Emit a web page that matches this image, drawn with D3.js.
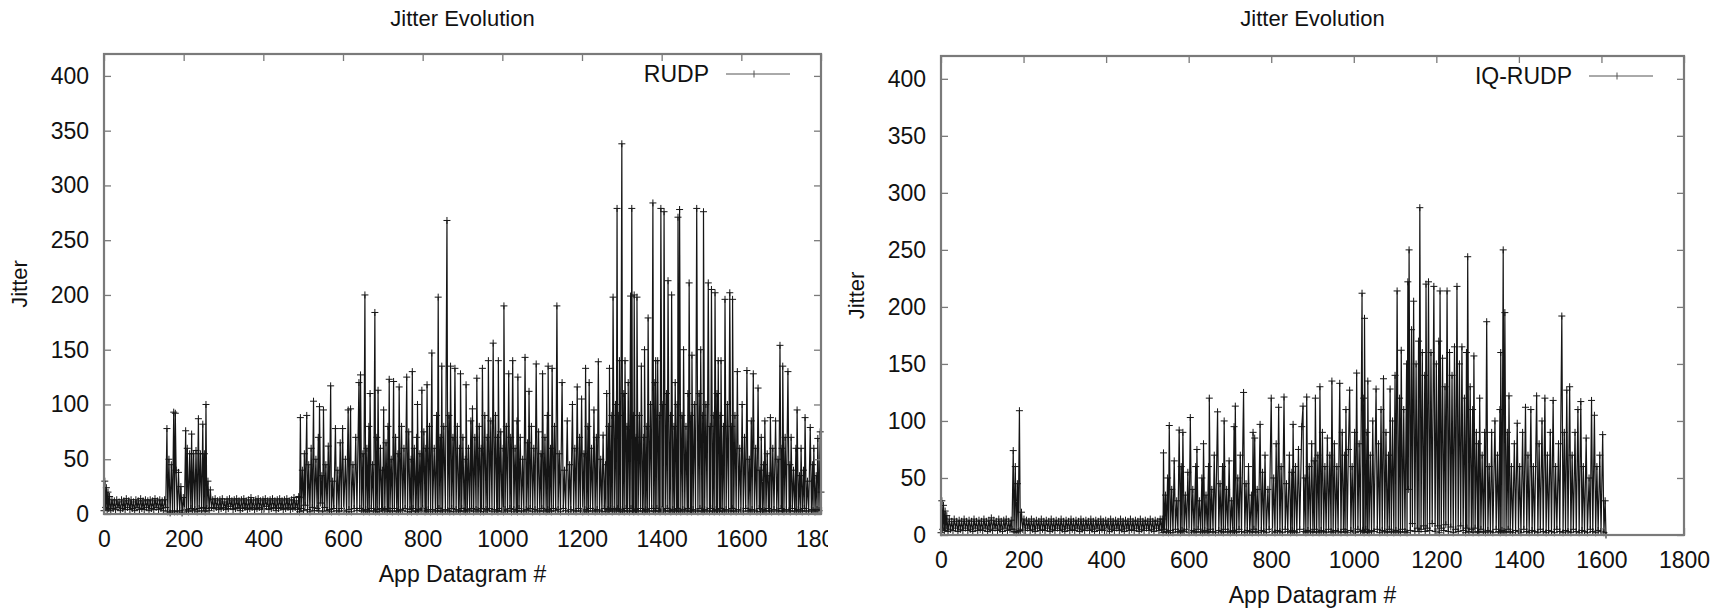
<!DOCTYPE html>
<html>
<head>
<meta charset="utf-8">
<script src="https://cdn.jsdelivr.net/npm/d3@7"></script>
<style>
  body { margin: 0; background: #fff; }
  svg { display: block; }
  text { font-family: "Liberation Sans", Arial, Helvetica, sans-serif; fill: #111; }
</style>
</head>
<body>
<svg id="chart" width="1725" height="610"></svg>
<script>
// chart data (datagram #, jitter)
var titles = ["Jitter Evolution", "Jitter Evolution"];
var seriesNames = ["RUDP", "IQ-RUDP"];
var xTicks = [0, 200, 400, 600, 800, 1000, 1200, 1400, 1600, 1800];
var yTicks = [0, 50, 100, 150, 200, 250, 300, 350, 400];

// RUDP: start, quiet band, first burst, quiet band, busy part
var rudpStart = [[0,3],[2,30],[4,6],[6,24],[8,4],[10,20],[12,5],[14,16],[17,3],[20,13],[23,5],[26,12],[29,4],[32,13],[35,6],[38,11],[41,3],[44,13],[47,5],[50,12],[53,4],[56,14],[59,6],[62,12],[65,4],[68,13],[71,5],[74,11],[77,3],[80,13],[83,6],[86,12],[89,4],[92,14],[95,5],[98,12],[101,4],[104,13],[107,6],[110,12],[113,3],[116,13],[119,5],[122,12],[125,4],[128,14],[131,6],[134,12],[137,4],[140,13],[143,5],[146,12],[149,3],[152,13],[155,6]];
var rudpBurst = [[158,78],[160,2],[163,50],[166,1],[169,45],[172,3],[175,93],[177,2],[179,92],[181,40],[184,2],[187,38],[190,3],[193,25],[196,1],[199,15],[202,3],[205,76],[207,4],[209,60],[212,2],[215,55],[218,5],[220,73],[222,3],[225,55],[228,4],[231,58],[234,2],[237,87],[239,5],[242,55],[245,3],[248,82],[250,6],[252,55],[254,2],[256,100],[258,5],[261,30],[264,3],[267,22]];
var rudpQuiet = [[270,6],[273,13],[276,5],[279,14],[282,6],[285,12],[288,4],[291,13],[294,5],[297,14],[300,6],[303,11],[306,4],[309,13],[312,5],[315,14],[318,7],[321,12],[324,4],[327,13],[330,5],[333,14],[336,6],[339,12],[342,3],[345,13],[348,5],[351,14],[354,6],[357,12],[360,4],[363,13],[366,5],[369,15],[372,6],[375,12],[378,4],[381,13],[384,5],[387,14],[390,6],[393,12],[396,4],[399,13],[402,5],[405,14],[408,7],[411,12],[414,4],[417,13],[420,5],[423,14],[426,6],[429,12],[432,3],[435,13],[438,5],[441,14],[444,6],[447,12],[450,4],[453,13],[456,5],[459,14],[462,6],[465,12],[468,4],[471,13],[474,5],[477,15],[480,6],[483,12],[486,4],[489,16]];
var rudpBusy = [[490,15],[491,2],[493,88],[495,5],[498,40],[501,3],[503,55],[505,8],[509,90],[511,4],[514,45],[517,2],[520,60],[523,6],[526,103],[528,3],[532,50],[535,5],[538,70],[539,3],[541,98],[544,10],[547,35],[549,2],[551,95],[554,6],[557,45],[560,3],[563,62],[566,4],[569,117],[571,2],[574,30],[577,5],[581,78],[584,3],[587,40],[590,2],[593,65],[596,5],[599,78],[602,3],[606,50],[609,2],[613,95],[615,4],[619,96],[621,2],[625,45],[628,5],[632,70],[635,3],[640,120],[642,5],[644,127],[647,3],[650,55],[652,2],[655,200],[657,4],[660,60],[662,3],[665,80],[666,2],[668,110],[671,5],[674,45],[677,3],[680,184],[682,2],[685,70],[686,4],[688,113],[691,2],[694,60],[697,5],[699,40],[700,3],[702,95],[705,4],[708,65],[711,2],[713,80],[714,5],[716,123],[718,3],[721,50],[724,2],[727,121],[729,5],[732,70],[735,3],[738,55],[739,2],[741,116],[744,4],[747,80],[750,3],[753,60],[756,5],[760,125],[762,2],[765,75],[768,4],[771,50],[772,2],[774,130],[776,5],[779,60],[782,3],[785,70],[786,2],[787,100],[790,4],[793,55],[796,3],[798,113],[800,5],[803,75],[806,2],[808,60],[809,3],[811,118],[814,4],[817,80],[820,2],[823,147],[825,4],[829,60],[832,3],[835,90],[837,2],[839,198],[841,5],[844,70],[846,3],[848,135],[850,2],[853,80],[857,4],[861,268],[863,3],[866,90],[868,2],[870,135],[873,5],[876,70],[878,2],[881,133],[884,4],[887,80],[890,3],[893,60],[894,2],[895,128],[898,5],[901,70],[904,3],[907,50],[908,2],[909,118],[912,4],[915,60],[918,3],[921,85],[923,5],[925,96],[928,2],[931,70],[934,4],[936,124],[939,3],[942,80],[945,2],[947,60],[948,5],[950,133],[953,2],[956,90],[959,4],[962,70],[963,3],[965,140],[968,5],[971,85],[974,2],[977,156],[980,4],[983,90],[986,3],[988,70],[989,2],[990,140],[993,5],[996,75],[999,3],[1002,60],[1003,2],[1004,190],[1007,4],[1010,80],[1013,3],[1016,128],[1019,5],[1021,70],[1023,2],[1026,140],[1029,4],[1032,60],[1035,3],[1037,85],[1038,2],[1039,125],[1042,5],[1045,70],[1048,3],[1051,50],[1054,2],[1057,143],[1060,4],[1063,65],[1065,3],[1067,112],[1070,5],[1073,80],[1076,2],[1079,60],[1082,4],[1085,137],[1088,3],[1091,75],[1094,2],[1097,55],[1099,5],[1101,128],[1104,3],[1107,70],[1110,2],[1113,90],[1114,4],[1115,135],[1118,3],[1121,60],[1123,2],[1125,133],[1128,5],[1131,80],[1134,3],[1137,190],[1140,4],[1143,55],[1146,2],[1150,120],[1153,5],[1156,40],[1159,3],[1163,85],[1166,2],[1169,45],[1172,4],[1176,100],[1179,3],[1182,60],[1185,2],[1188,116],[1191,5],[1194,70],[1196,3],[1199,105],[1202,2],[1205,55],[1207,4],[1209,133],[1212,3],[1215,80],[1216,2],[1218,120],[1221,5],[1224,60],[1227,3],[1230,95],[1233,2],[1236,70],[1238,4],[1241,139],[1244,3],[1247,50],[1250,2],[1253,72],[1256,5],[1259,45],[1260,2],[1262,110],[1265,4],[1267,80],[1268,3],[1269,133],[1272,5],[1275,90],[1276,2],[1278,198],[1281,4],[1284,100],[1286,3],[1288,279],[1290,5],[1292,90],[1293,2],[1294,140],[1297,4],[1300,338],[1302,3],[1305,110],[1306,2],[1308,140],[1311,5],[1313,80],[1314,3],[1316,120],[1319,2],[1322,199],[1323,5],[1325,279],[1327,3],[1329,90],[1330,2],[1331,200],[1334,4],[1336,70],[1337,3],[1338,198],[1341,2],[1344,90],[1347,5],[1349,135],[1352,3],[1355,70],[1356,2],[1357,150],[1360,4],[1363,80],[1364,3],[1366,179],[1369,2],[1372,100],[1375,5],[1378,284],[1380,3],[1383,120],[1384,2],[1385,140],[1388,5],[1390,140],[1393,3],[1395,90],[1396,2],[1398,279],[1401,4],[1403,100],[1404,3],[1406,276],[1409,2],[1412,110],[1414,5],[1416,213],[1419,3],[1422,90],[1423,2],[1425,200],[1428,4],[1431,80],[1432,3],[1434,120],[1437,2],[1439,100],[1440,5],[1441,271],[1443,3],[1445,278],[1448,2],[1451,90],[1453,4],[1455,150],[1458,3],[1461,80],[1464,2],[1466,110],[1467,5],[1469,211],[1472,3],[1474,90],[1475,2],[1476,145],[1479,4],[1482,100],[1485,3],[1488,279],[1491,2],[1494,110],[1496,5],[1498,150],[1501,3],[1503,90],[1504,2],[1505,276],[1508,4],[1511,100],[1514,3],[1517,211],[1520,2],[1522,80],[1523,5],[1525,205],[1528,3],[1531,90],[1532,2],[1534,202],[1537,4],[1539,110],[1540,3],[1542,140],[1545,2],[1547,90],[1548,5],[1549,140],[1552,3],[1555,80],[1557,2],[1559,196],[1562,4],[1565,100],[1568,3],[1571,202],[1574,2],[1576,80],[1577,5],[1578,196],[1581,3],[1584,90],[1587,2],[1590,130],[1593,4],[1596,60],[1599,3],[1602,100],[1605,2],[1608,70],[1611,5],[1614,131],[1617,3],[1620,50],[1622,2],[1625,85],[1627,4],[1630,128],[1633,3],[1636,60],[1639,2],[1642,115],[1645,5],[1647,40],[1648,2],[1650,70],[1653,4],[1656,45],[1657,3],[1659,85],[1662,2],[1665,55],[1668,5],[1670,35],[1671,3],[1673,88],[1676,2],[1679,60],[1682,4],[1686,85],[1689,3],[1692,50],[1694,2],[1697,154],[1700,5],[1702,60],[1703,3],[1704,135],[1707,2],[1710,70],[1713,4],[1717,130],[1720,3],[1722,45],[1723,2],[1725,70],[1728,5],[1731,40],[1734,3],[1737,60],[1738,2],[1740,95],[1743,4],[1746,35],[1748,3],[1750,60],[1753,2],[1756,40],[1758,5],[1760,88],[1763,3],[1766,30],[1769,2],[1773,79],[1776,4],[1779,45],[1780,3],[1782,60],[1785,2],[1788,35],[1790,4],[1792,69],[1795,3],[1798,75],[1800,20]];

// IQ-RUDP
var iqStart = [[0,2],[2,30],[4,5],[6,26],[8,4],[10,21],[12,6],[14,17],[17,3],[20,14],[23,5],[26,12],[29,4],[32,14],[35,6],[38,12],[41,3],[44,13],[47,5],[50,12],[53,4],[56,14],[59,6],[62,12],[65,4],[68,13],[71,5],[74,12],[77,3],[80,14],[83,6],[86,12],[89,4],[92,13],[95,5],[98,12],[101,4],[104,14],[107,6],[110,12],[113,3],[116,13],[119,5],[122,15],[125,4],[128,13],[131,6],[134,12],[137,4],[140,14],[143,5],[146,12],[149,3],[152,13],[155,6],[158,14],[161,4],[164,12],[167,5],[170,13]];
var iqBurst = [[172,5],[175,74],[177,3],[180,60],[182,2],[185,45],[187,3],[190,109],[192,4],[195,20],[198,5],[201,14]];
var iqQuiet = [[204,4],[207,13],[210,6],[213,12],[216,4],[219,14],[222,5],[225,12],[228,3],[231,13],[234,6],[237,12],[240,4],[243,14],[246,5],[249,12],[252,4],[255,13],[258,6],[261,12],[264,3],[267,14],[270,5],[273,12],[276,4],[279,13],[282,6],[285,12],[288,4],[291,14],[294,5],[297,12],[300,3],[303,13],[306,6],[309,12],[312,4],[315,14],[318,5],[321,12],[324,4],[327,13],[330,6],[333,12],[336,3],[339,14],[342,5],[345,12],[348,4],[351,13],[354,6],[357,12],[360,4],[363,14],[366,5],[369,12],[372,3],[375,13],[378,6],[381,12],[384,4],[387,14],[390,5],[393,12],[396,4],[399,13],[402,6],[405,12],[408,3],[411,14],[414,5],[417,12],[420,4],[423,13],[426,6],[429,12],[432,4],[435,14],[438,5],[441,12],[444,3],[447,13],[450,6],[453,12],[456,4],[459,14],[462,5],[465,12],[468,4],[471,13],[474,6],[477,12],[480,3],[483,14],[486,5],[489,12],[492,4],[495,13],[498,6],[501,12],[504,4],[507,14],[510,5],[513,12],[516,3],[519,13],[522,6],[525,12],[528,4],[531,14],[534,5]];
var iqBusy = [[536,14],[538,2],[539,72],[541,5],[544,35],[546,3],[549,50],[551,2],[553,96],[556,4],[559,40],[562,2],[565,65],[568,5],[571,30],[574,3],[577,92],[580,2],[582,60],[584,4],[586,90],[589,3],[592,35],[595,5],[598,55],[601,2],[604,103],[607,4],[610,40],[613,3],[617,60],[618,2],[620,75],[623,5],[626,30],[629,3],[632,50],[634,2],[636,80],[639,4],[642,35],[645,3],[648,60],[649,2],[650,120],[653,5],[656,40],[659,3],[662,70],[665,2],[670,108],[673,4],[676,45],[679,3],[682,60],[684,2],[686,100],[689,5],[692,40],[695,3],[698,65],[701,2],[704,30],[707,4],[710,95],[711,3],[713,113],[716,2],[719,50],[722,5],[725,70],[728,3],[733,125],[736,2],[739,45],[742,4],[745,60],[748,3],[752,35],[754,2],[756,90],[758,5],[760,85],[763,3],[766,40],[769,2],[773,97],[776,4],[779,55],[782,3],[785,70],[788,2],[792,40],[795,5],[800,120],[803,3],[806,50],[809,2],[812,80],[815,4],[818,112],[821,3],[824,60],[827,2],[831,121],[834,5],[837,45],[840,3],[844,70],[847,2],[850,55],[851,4],[853,97],[856,3],[859,60],[862,2],[866,75],[869,5],[874,95],[877,113],[879,3],[882,50],[884,2],[886,121],[889,4],[892,60],[895,3],[898,80],[901,2],[904,65],[905,5],[907,120],[910,3],[913,70],[916,2],[918,130],[921,4],[924,90],[927,3],[930,60],[933,2],[936,85],[939,5],[942,70],[945,3],[947,135],[950,2],[953,80],[956,4],[959,60],[962,3],[966,133],[969,2],[972,90],[975,5],[978,70],[979,3],[981,110],[984,2],[987,75],[990,127],[993,4],[996,60],[999,3],[1002,90],[1004,2],[1007,142],[1010,5],[1013,80],[1016,3],[1020,212],[1022,4],[1024,120],[1025,2],[1026,190],[1029,5],[1032,90],[1033,3],[1034,135],[1037,2],[1040,70],[1043,4],[1046,100],[1049,3],[1054,128],[1057,5],[1060,80],[1063,2],[1066,110],[1069,4],[1072,137],[1075,3],[1078,90],[1081,2],[1084,70],[1086,5],[1088,128],[1091,3],[1094,100],[1097,2],[1100,140],[1102,4],[1105,214],[1108,3],[1111,120],[1113,2],[1115,162],[1118,5],[1121,110],[1124,3],[1128,150],[1129,2],[1131,222],[1132,40],[1134,250],[1137,4],[1140,180],[1142,10],[1145,205],[1148,3],[1151,150],[1154,6],[1157,170],[1158,3],[1160,287],[1163,5],[1166,160],[1169,8],[1172,140],[1173,3],[1175,220],[1178,6],[1181,222],[1184,4],[1187,160],[1190,10],[1194,218],[1197,3],[1200,150],[1203,8],[1206,170],[1207,2],[1209,214],[1212,6],[1215,155],[1218,4],[1221,130],[1223,9],[1226,214],[1229,3],[1232,160],[1235,7],[1238,140],[1241,2],[1244,165],[1247,5],[1250,218],[1253,3],[1256,150],[1259,8],[1262,165],[1265,4],[1268,120],[1271,2],[1273,160],[1274,6],[1276,244],[1279,3],[1282,130],[1285,5],[1288,110],[1289,2],[1291,157],[1294,6],[1297,90],[1300,3],[1302,80],[1303,2],[1305,120],[1308,5],[1311,70],[1314,3],[1317,90],[1319,2],[1322,187],[1325,4],[1328,60],[1331,3],[1334,90],[1337,2],[1342,100],[1345,5],[1348,70],[1351,3],[1354,110],[1355,2],[1356,160],[1359,4],[1362,250],[1364,3],[1366,195],[1369,2],[1372,90],[1374,5],[1376,122],[1379,3],[1382,60],[1385,2],[1389,80],[1392,4],[1396,98],[1399,3],[1402,60],[1405,2],[1409,90],[1412,5],[1416,112],[1419,3],[1422,70],[1425,2],[1429,110],[1432,4],[1435,60],[1438,3],[1443,122],[1446,2],[1449,80],[1452,5],[1456,100],[1459,3],[1463,120],[1466,2],[1469,70],[1472,4],[1476,90],[1479,3],[1483,118],[1486,2],[1489,60],[1492,5],[1496,80],[1499,3],[1504,192],[1507,2],[1510,90],[1513,4],[1516,127],[1519,3],[1523,130],[1526,2],[1529,70],[1532,5],[1536,90],[1539,3],[1543,110],[1546,2],[1550,117],[1553,4],[1556,60],[1559,3],[1563,85],[1566,2],[1570,50],[1573,5],[1576,118],[1579,3],[1583,105],[1586,2],[1589,60],[1592,4],[1596,70],[1599,3],[1603,88],[1606,2],[1609,30],[1611,0]];

var rudp = rudpStart.concat(rudpBurst, rudpQuiet, rudpBusy);
var iqrudp = iqStart.concat(iqBurst, iqQuiet, iqBusy);

// panel layout (pixels)
var panels = [
  {title: titles[0], name: seriesNames[0], data: rudp, left: 104, right: 821, top: 54, bottom: 514, clip: 828},
  {title: titles[1], name: seriesNames[1], data: iqrudp, left: 941, right: 1684, top: 56, bottom: 535, clip: 1725}
];

var svg = d3.select("#chart");
var frameColor = "#7a7a7a";
var lineColor = "#151515";

panels.forEach(function(p, i) {
  var clipId = "clip" + i;
  svg.append("clipPath").attr("id", clipId)
    .append("rect").attr("x", i == 0 ? 0 : 840).attr("y", 0)
    .attr("width", (i == 0 ? p.clip : p.clip - 840)).attr("height", 610);

  var g = svg.append("g").attr("clip-path", "url(#" + clipId + ")");

  var x = d3.scaleLinear().domain([0, 1800]).range([p.left, p.right]);
  var y = d3.scaleLinear().domain([0, 420]).range([p.bottom, p.top]);

  // data line
  var plot = g.append("g");
  plot.append("path")
    .datum(p.data)
    .attr("fill", "none")
    .attr("stroke", lineColor)
    .attr("stroke-width", 1.2)
    .attr("d", d3.line().x(function(d) { return x(d[0]); }).y(function(d) { return y(d[1]); }));

  // "+" markers
  plot.append("path")
    .attr("fill", "none")
    .attr("stroke", lineColor)
    .attr("stroke-width", 1)
    .attr("d", p.data.map(function(d) {
      var cx = x(d[0]), cy = y(d[1]);
      return "M" + (cx - 3.5) + "," + cy + "H" + (cx + 3.5) + "M" + cx + "," + (cy - 3.5) + "V" + (cy + 3.5);
    }).join(""));

  // axes with inward ticks on every side
  var fmt = d3.format("d");
  var ax = g.append("g").attr("transform", "translate(0," + p.bottom + ")")
    .call(d3.axisBottom(x).tickValues(xTicks).tickFormat(fmt).tickSizeInner(-7).tickSizeOuter(0).tickPadding(17));
  var ay = g.append("g").attr("transform", "translate(" + p.left + ",0)")
    .call(d3.axisLeft(y).tickValues(yTicks).tickFormat(fmt).tickSizeInner(-7).tickSizeOuter(0).tickPadding(15));
  var at = g.append("g").attr("transform", "translate(0," + p.top + ")")
    .call(d3.axisTop(x).tickValues(xTicks).tickSizeInner(-7).tickSizeOuter(0).tickFormat(""));
  var ar = g.append("g").attr("transform", "translate(" + p.right + ",0)")
    .call(d3.axisRight(y).tickValues(yTicks).tickSizeInner(-7).tickSizeOuter(0).tickFormat(""));

  [ax, ay, at, ar].forEach(function(a) {
    a.select(".domain").remove();
    a.selectAll(".tick line").attr("stroke", frameColor).attr("stroke-width", 1.3);
    a.selectAll(".tick text").attr("font-size", 23).attr("fill", "#111")
      .style("font-family", "'Liberation Sans', Arial, sans-serif");
  });

  // frame
  g.append("rect")
    .attr("x", p.left).attr("y", p.top)
    .attr("width", p.right - p.left).attr("height", p.bottom - p.top)
    .attr("fill", "none").attr("stroke", frameColor).attr("stroke-width", 2.2);

  // title and axis labels
  g.append("text")
    .attr("x", (p.left + p.right) / 2).attr("y", 18)
    .attr("text-anchor", "middle").attr("dominant-baseline", "central")
    .attr("font-size", 22)
    .text(p.title);

  g.append("text")
    .attr("x", (p.left + p.right) / 2).attr("y", p.bottom + 60)
    .attr("text-anchor", "middle").attr("dominant-baseline", "central")
    .attr("font-size", 23)
    .text("App Datagram #");

  g.append("text")
    .attr("transform", "translate(" + (p.left - 85) + "," + ((p.top + p.bottom) / 2) + ") rotate(-90)")
    .attr("text-anchor", "middle").attr("dominant-baseline", "central")
    .attr("font-size", 22)
    .text("Jitter");

  // legend
  var ly = p.top + 20;
  g.append("text")
    .attr("x", p.right - 112).attr("y", ly)
    .attr("text-anchor", "end").attr("dominant-baseline", "central")
    .attr("font-size", 23)
    .text(p.name);
  g.append("line")
    .attr("x1", p.right - 95).attr("x2", p.right - 31)
    .attr("y1", ly).attr("y2", ly)
    .attr("stroke", "#555").attr("stroke-width", 1);
  g.append("path")
    .attr("d", "M" + (p.right - 67) + "," + (ly - 3.5) + "V" + (ly + 3.5))
    .attr("stroke", "#555").attr("stroke-width", 1);
});
</script>
</body>
</html>
